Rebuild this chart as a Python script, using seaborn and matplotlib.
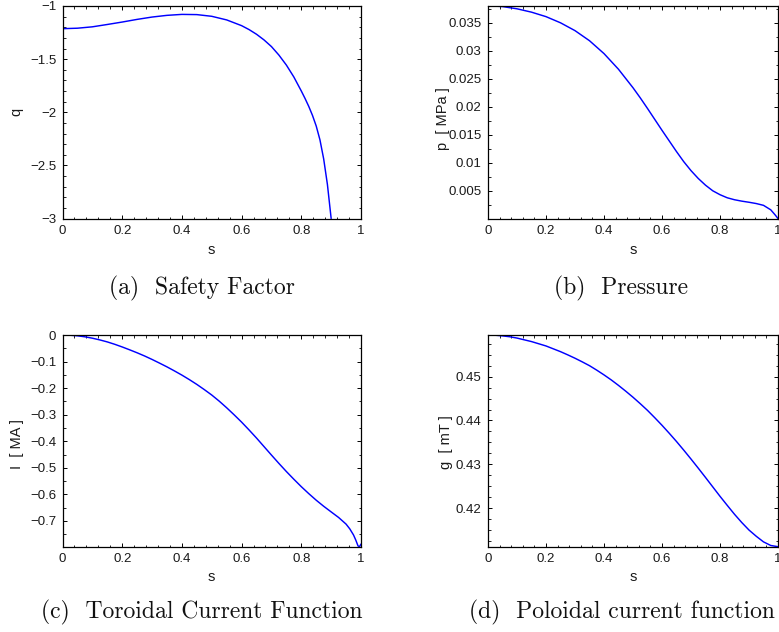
import numpy as np
import pandas as pd
import matplotlib
matplotlib.use("Agg")
import matplotlib.pyplot as plt
import seaborn as sns
from matplotlib.ticker import FixedLocator, AutoMinorLocator, FuncFormatter

# ---------------- data ----------------
s_q = [0.0, 0.05, 0.1, 0.15, 0.2, 0.25, 0.3, 0.35, 0.4, 0.45, 0.5, 0.55, 0.6,
       0.625, 0.65, 0.675, 0.7, 0.725, 0.75, 0.775, 0.8, 0.8125, 0.825,
       0.8375, 0.85, 0.8625, 0.875, 0.8875, 0.9]
q_vals = [-1.2135, -1.209, -1.196, -1.174, -1.151, -1.126, -1.104, -1.088,
          -1.079, -1.081, -1.097, -1.131, -1.185, -1.222, -1.266, -1.319,
          -1.382, -1.462, -1.556, -1.668, -1.800, -1.870, -1.945, -2.030,
          -2.130, -2.260, -2.440, -2.680, -3.000]

s_p = [0.0, 0.025, 0.05, 0.075, 0.1, 0.125, 0.15, 0.175, 0.2, 0.225, 0.25,
       0.275, 0.3, 0.325, 0.35, 0.375, 0.4, 0.425, 0.45, 0.475, 0.5, 0.525,
       0.55, 0.575, 0.6, 0.625, 0.65, 0.675, 0.7, 0.725, 0.75, 0.775, 0.8,
       0.825, 0.85, 0.875, 0.9, 0.925, 0.95, 0.975, 0.99, 1.0]
p_vals = [0.03800, 0.03798, 0.03790, 0.03770, 0.03750, 0.03720, 0.03690,
          0.03650, 0.03610, 0.03555, 0.03500, 0.03430, 0.03360, 0.03270,
          0.03180, 0.03065, 0.02950, 0.02810, 0.02670, 0.02505, 0.02340,
          0.02160, 0.01970, 0.01775, 0.01580, 0.01390, 0.01200, 0.01020,
          0.00860, 0.00720, 0.00600, 0.00500, 0.00430, 0.00375, 0.00340,
          0.00315, 0.00295, 0.00272, 0.00240, 0.00160, 0.00070, 0.00005]

s_I = [0.0, 0.025, 0.05, 0.075, 0.1, 0.125, 0.15, 0.175, 0.2, 0.225, 0.25,
       0.275, 0.3, 0.325, 0.35, 0.375, 0.4, 0.425, 0.45, 0.475, 0.5, 0.525,
       0.55, 0.575, 0.6, 0.625, 0.65, 0.675, 0.7, 0.725, 0.75, 0.775, 0.8,
       0.825, 0.85, 0.875, 0.9, 0.925, 0.95, 0.9625, 0.975, 0.9825, 0.99,
       0.995, 1.0]
I_vals = [0.0, -0.0008, -0.003, -0.0068, -0.012, -0.0185, -0.026, -0.035,
          -0.045, -0.0558, -0.067, -0.079, -0.092, -0.1058, -0.120, -0.1352,
          -0.151, -0.168, -0.186, -0.2055, -0.226, -0.249, -0.274, -0.3005,
          -0.328, -0.3575, -0.388, -0.420, -0.452, -0.4835, -0.514, -0.543,
          -0.571, -0.5972, -0.622, -0.6448, -0.666, -0.687, -0.712, -0.730,
          -0.753, -0.772, -0.794, -0.797, -0.787]

s_g = [0.0, 0.025, 0.05, 0.075, 0.1, 0.125, 0.15, 0.175, 0.2, 0.225, 0.25,
       0.275, 0.3, 0.325, 0.35, 0.375, 0.4, 0.425, 0.45, 0.475, 0.5, 0.525,
       0.55, 0.575, 0.6, 0.625, 0.65, 0.675, 0.7, 0.725, 0.75, 0.775, 0.8,
       0.825, 0.85, 0.875, 0.9, 0.925, 0.95, 0.975, 1.0]
g_vals = [0.45950, 0.45945, 0.45930, 0.45910, 0.45880, 0.45840, 0.45800,
          0.45750, 0.45700, 0.45635, 0.45570, 0.45497, 0.45420, 0.45337,
          0.45250, 0.45148, 0.45040, 0.44925, 0.44800, 0.44668, 0.44530,
          0.44383, 0.44230, 0.44063, 0.43890, 0.43708, 0.43520, 0.43323,
          0.43120, 0.42912, 0.42700, 0.42485, 0.42270, 0.42063, 0.41860,
          0.41672, 0.41500, 0.41358, 0.41230, 0.41148, 0.41120]

x_ticks = [0, 0.2, 0.4, 0.6, 0.8, 1.0]
q_ticks = [-3, -2.5, -2, -1.5, -1]
p_ticks = [0.005, 0.01, 0.015, 0.02, 0.025, 0.03, 0.035]
I_ticks = [-0.7, -0.6, -0.5, -0.4, -0.3, -0.2, -0.1, 0]
g_ticks = [0.42, 0.43, 0.44, 0.45]

ylabels = ["q", "p  [ MPa ]", "I  [ MA ]", "g  [ mT ]"]
captions = ["(a)  Safety Factor", "(b)  Pressure",
            "(c)  Toroidal Current Function", "(d)  Poloidal current function"]

# ---------------- styling ----------------
sns.set_theme(style="white")
plt.rcParams["font.family"] = ["Liberation Sans", "DejaVu Sans"]
plt.rcParams["axes.unicode_minus"] = True

W, H = 779, 632
fig = plt.figure(figsize=(W / 100, H / 100), dpi=100)
fig.patch.set_facecolor("white")


def box(l, t, r, b):
    return [l / W, 1 - b / H, (r - l) / W, (b - t) / H]


boxes = [box(62.5, 6, 361, 218.5), box(488, 6, 778, 218.5),
         box(62.5, 335, 361, 546.7), box(488, 335, 778, 546.7)]

datasets = [(s_q, q_vals, q_ticks, (-3.0, -1.0), 5),
            (s_p, p_vals, p_ticks, (min(p_vals), max(p_vals)), 2),
            (s_I, I_vals, I_ticks, (min(I_vals), 0.0), 2),
            (s_g, g_vals, g_ticks, (min(g_vals), max(g_vals)), 4)]

ylab_x = [-0.131, -0.132, -0.129, -0.119]
ylab_y = [0.5, 0.47, 0.487, 0.492]
xlab_y = [-0.115, -0.115, -0.110, -0.110]


def fmt(v, pos):
    t = "%g" % v
    return t.replace("-", "\u2212")


for i, (b, (xs, ys, yt, yl, nminor)) in enumerate(zip(boxes, datasets)):
    ax = fig.add_axes(b)
    df = pd.DataFrame({"s": xs, "v": ys})
    sns.lineplot(data=df, x="s", y="v", ax=ax, color="#0000ff",
                 linewidth=1.05, estimator=None, sort=True)
    ax.set_xlim(0, 1)
    ax.set_ylim(*yl)
    ax.xaxis.set_major_locator(FixedLocator(x_ticks))
    ax.yaxis.set_major_locator(FixedLocator(yt))
    ax.xaxis.set_minor_locator(AutoMinorLocator(5))
    ax.yaxis.set_minor_locator(AutoMinorLocator(nminor))
    ax.xaxis.set_major_formatter(FuncFormatter(fmt))
    ax.yaxis.set_major_formatter(FuncFormatter(fmt))
    ax.tick_params(which="both", direction="in", top=True, right=True,
                   bottom=True, left=True, colors="black",
                   labelcolor="#1a1a1a", labelsize=9.5, pad=4.5)
    ax.tick_params(which="major", length=3.2, width=0.7)
    ax.tick_params(which="minor", length=1.8, width=0.6)
    for sp in ax.spines.values():
        sp.set_visible(True)
        sp.set_color("black")
        sp.set_linewidth(0.9)
    ax.set_xlabel("s", fontsize=10.5, color="#1a1a1a")
    ax.set_ylabel(ylabels[i], fontsize=10.5, color="#1a1a1a")
    ax.xaxis.set_label_coords(0.5, xlab_y[i])
    ax.yaxis.set_label_coords(ylab_x[i], ylab_y[i])
    ax.set_facecolor("white")

cap_pos = [(202, 294), (621, 294), (202, 618), (622, 618)]
for (cx, cy), txt in zip(cap_pos, captions):
    fig.text(cx / W, 1 - cy / H, txt, ha="center", va="baseline",
             fontfamily="cmr10", fontsize=17, color="#111111")

fig.savefig("out.png", dpi=100, facecolor="white")
